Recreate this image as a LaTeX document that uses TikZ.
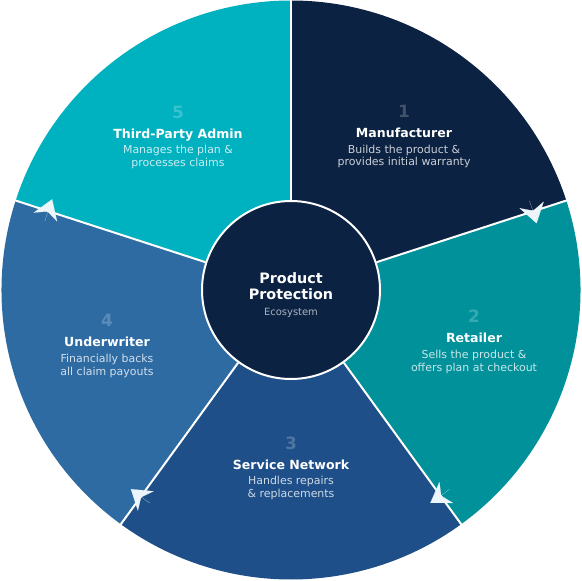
\documentclass[tikz,border=0pt]{standalone}
\usepackage{fontspec}
\setmainfont{DejaVu Sans}
\usetikzlibrary{arrows.meta,positioning}
\definecolor{hubnavy}{RGB}{12,34,66}
\definecolor{retailteal}{RGB}{0,145,155}
\definecolor{serviceblue}{RGB}{30,79,136}
\definecolor{underblue}{RGB}{46,107,163}
\definecolor{tpacyan}{RGB}{0,177,192}
\definecolor{tipwhite}{RGB}{236,246,250}

\begin{document}
\begin{tikzpicture}[x=1bp, y=1bp,
    secnum/.style={anchor=base, inner sep=0pt, text=white, text opacity=0.22, font=\fontsize{17}{20}\selectfont\bfseries},
    sectitle/.style={anchor=base, inner sep=0pt, text=white, font=\fontsize{12.6}{15}\selectfont\bfseries},
    secsub/.style={anchor=base, inner sep=0pt, text=white, text opacity=0.78, align=center, font=\fontsize{11}{13}\selectfont},
    divider/.style={white, line width=2bp},
    flowtip/.style={-{Stealth[length=19bp, width=25bp, inset=6bp]}, tipwhite, line width=0.1bp}]

    \useasboundingbox (-291,-291) rectangle (291,290);

    % sectors, clockwise from the top
    \fill[hubnavy]     (0,0) -- (90:289.5) arc[start angle=90, end angle=18, radius=289.5] -- cycle;
    \fill[retailteal]  (0,0) -- (18:289.5) arc[start angle=18, end angle=-54, radius=289.5] -- cycle;
    \fill[serviceblue] (0,0) -- (-54:289.5) arc[start angle=-54, end angle=-126, radius=289.5] -- cycle;
    \fill[underblue]   (0,0) -- (-126:289.5) arc[start angle=-126, end angle=-198, radius=289.5] -- cycle;
    \fill[tpacyan]     (0,0) -- (162:289.5) arc[start angle=162, end angle=90, radius=289.5] -- cycle;

    \node[circle, fill=hubnavy, draw=white, line width=2bp, minimum size=178bp, inner sep=0pt] (hub) at (0,0) {};

    \draw[divider] (hub.90) -- (90:290);
    \draw[divider] (hub.18) -- (18:290);
    \draw[divider] (hub.-54) -- (-54:290);
    \draw[divider] (hub.-126) -- (-126:290);
    \draw[divider] (hub.162) -- (162:290);

    % flow arrows on the ring
    \draw[flowtip] (20.5:254.5) arc[start angle=20.5, end angle=15.2, radius=254.5];
    \draw[flowtip] (-51.5:254.5) arc[start angle=-51.5, end angle=-56.8, radius=254.5];
    \draw[flowtip] (-123.5:255.5) arc[start angle=-123.5, end angle=-128.8, radius=255.5];
    \draw[flowtip] (164.5:255.5) arc[start angle=164.5, end angle=159.2, radius=255.5];

    % hub text
    \node[anchor=base, inner sep=0pt, text=white, align=center, font=\fontsize{14.4}{16.7}\selectfont\bfseries] (hubtitle) at (0,-10) {Product\\Protection};
    \node[anchor=base, inner sep=0pt, text=white, text opacity=0.65, font=\fontsize{10}{12}\selectfont] (hubsub) at (0,-25.3) {Ecosystem};

    % sector texts
    \node[sectitle] (mfr) at (113,152.3) {Manufacturer};
    \node[above=20bp of mfr.base, secnum] (mfr-num) {1};
    \node[below=28.3bp of mfr.base, secsub] (mfr-sub) {Builds the product \&\\provides initial warranty};

    \node[sectitle] (retail) at (183,-52.7) {Retailer};
    \node[above=20bp of retail.base, secnum] (retail-num) {2};
    \node[below=28.3bp of retail.base, secsub] (retail-sub) {Sells the product \&\\offers plan at checkout};

    \node[sectitle] (service) at (0,-179) {Service Network};
    \node[above=20bp of service.base, secnum] (service-num) {3};
    \node[below=28.3bp of service.base, secsub] (service-sub) {Handles repairs\\\& replacements};

    \node[sectitle] (under) at (-184,-56.7) {Underwriter};
    \node[above=20bp of under.base, secnum] (under-num) {4};
    \node[below=28.3bp of under.base, secsub] (under-sub) {Financially backs\\all claim payouts};

    \node[sectitle] (tpa) at (-113,151.7) {Third-Party Admin};
    \node[above=20bp of tpa.base, secnum] (tpa-num) {5};
    \node[below=28.3bp of tpa.base, secsub] (tpa-sub) {Manages the plan \&\\processes claims};
\end{tikzpicture}
\end{document}
